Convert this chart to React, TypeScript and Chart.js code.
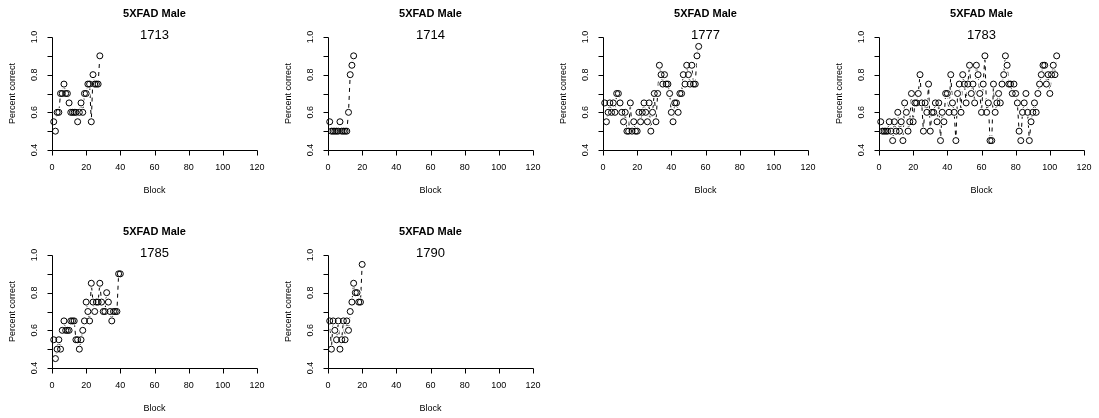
import React, { useEffect, useRef } from "react";
import { Chart, registerables } from "chart.js";

Chart.register(...registerables);

// Group shown above every panel
const groupLabel = "5XFAD Male";

// Animal IDs, in panel order (row by row)
const animalIds = ["1713", "1714", "1777", "1783", "1785", "1790"];

// Percent correct per block (block numbers start at 1)
const pct1713 = [0.55, 0.5, 0.6, 0.6, 0.7, 0.7, 0.75, 0.7, 0.7, 0.65, 0.6, 0.6, 0.6, 0.6, 0.55, 0.6, 0.65, 0.6, 0.7, 0.7, 0.75, 0.75, 0.55, 0.8, 0.75, 0.75, 0.75, 0.9];
const pct1714 = [0.55, 0.5, 0.5, 0.5, 0.5, 0.5, 0.55, 0.5, 0.5, 0.5, 0.5, 0.6, 0.8, 0.85, 0.9];
const pct1777 = [0.65, 0.55, 0.6, 0.65, 0.6, 0.65, 0.6, 0.7, 0.7, 0.65, 0.6, 0.55, 0.6, 0.5, 0.5, 0.65, 0.5, 0.55, 0.5, 0.5, 0.6, 0.55, 0.6, 0.65, 0.6, 0.55, 0.65, 0.5, 0.6, 0.7, 0.55, 0.7, 0.85, 0.8, 0.75, 0.8, 0.75, 0.75, 0.7, 0.6, 0.55, 0.65, 0.65, 0.6, 0.7, 0.7, 0.8, 0.75, 0.85, 0.8, 0.75, 0.85, 0.75, 0.75, 0.9, 0.95];
const pct1783 = [0.55, 0.5, 0.5, 0.5, 0.5, 0.55, 0.5, 0.45, 0.55, 0.5, 0.6, 0.5, 0.55, 0.45, 0.65, 0.6, 0.5, 0.55, 0.7, 0.55, 0.65, 0.65, 0.7, 0.8, 0.65, 0.5, 0.65, 0.6, 0.75, 0.5, 0.6, 0.6, 0.65, 0.55, 0.65, 0.45, 0.6, 0.55, 0.7, 0.7, 0.6, 0.8, 0.65, 0.6, 0.45, 0.7, 0.75, 0.6, 0.8, 0.75, 0.65, 0.75, 0.85, 0.7, 0.75, 0.65, 0.85, 0.8, 0.7, 0.6, 0.75, 0.9, 0.6, 0.65, 0.45, 0.45, 0.75, 0.6, 0.65, 0.7, 0.65, 0.75, 0.8, 0.9, 0.85, 0.75, 0.75, 0.7, 0.75, 0.7, 0.65, 0.5, 0.45, 0.6, 0.65, 0.7, 0.6, 0.45, 0.55, 0.6, 0.65, 0.6, 0.7, 0.75, 0.8, 0.85, 0.85, 0.75, 0.8, 0.7, 0.8, 0.85, 0.8, 0.9];
const pct1785 = [0.55, 0.45, 0.5, 0.55, 0.5, 0.6, 0.65, 0.6, 0.6, 0.6, 0.65, 0.65, 0.65, 0.55, 0.55, 0.5, 0.55, 0.6, 0.65, 0.75, 0.7, 0.65, 0.85, 0.75, 0.7, 0.75, 0.75, 0.85, 0.75, 0.7, 0.7, 0.8, 0.75, 0.7, 0.65, 0.7, 0.7, 0.7, 0.9, 0.9];
const pct1790 = [0.65, 0.5, 0.65, 0.6, 0.55, 0.65, 0.5, 0.55, 0.65, 0.55, 0.65, 0.6, 0.7, 0.75, 0.85, 0.8, 0.8, 0.75, 0.75, 0.95];

const seriesByPanel = [pct1713, pct1714, pct1777, pct1783, pct1785, pct1790];

// Axis ticks
const xTicks = [0, 20, 40, 60, 80, 100, 120];
const yTicks = [0.4, 0.5, 0.6, 0.7, 0.8, 0.9, 1.0];
const yTickLabels = ["0.4", "", "0.6", "", "0.8", "", "1.0"];

const xTitle = "Block";
const yTitle = "Percent correct";

// Panel geometry
const COLS = 4;
const COL_STEP = 275.7;
const ROW_STEP = 218;
const CANVAS_W = 276;
const CANVAS_H = 200;
const PLOT_LEFT = 52;
const PLOT_RIGHT = 257;
const PLOT_TOP = 37;
const PLOT_BOTTOM = 150;

const FONT = '"Liberation Sans", Arial, Helvetica, sans-serif';

// Base-graphics style axes, labels and titles drawn on top of the datasets
const baseAxesPlugin = {
  id: "baseAxes",
  afterDatasetsDraw(chart: any, _args: any, opts: any) {
    const { ctx } = chart;
    const xs = chart.scales.x;
    const ys = chart.scales.y;
    const snap = (v: number) => Math.round(v) + 0.5;

    ctx.save();
    ctx.strokeStyle = "#000";
    ctx.fillStyle = "#000";
    ctx.lineWidth = 1;
    ctx.setLineDash([]);

    // x axis
    const yAxis = snap(ys.getPixelForValue(yTicks[0]));
    ctx.beginPath();
    ctx.moveTo(snap(xs.getPixelForValue(xTicks[0])), yAxis);
    ctx.lineTo(snap(xs.getPixelForValue(xTicks[xTicks.length - 1])), yAxis);
    xTicks.forEach((t) => {
      const px = snap(xs.getPixelForValue(t));
      ctx.moveTo(px, yAxis);
      ctx.lineTo(px, yAxis + 5);
    });
    // y axis
    const xAxis = snap(xs.getPixelForValue(xTicks[0]));
    ctx.moveTo(xAxis, snap(ys.getPixelForValue(yTicks[0])));
    ctx.lineTo(xAxis, snap(ys.getPixelForValue(yTicks[yTicks.length - 1])));
    yTicks.forEach((t) => {
      const py = snap(ys.getPixelForValue(t));
      ctx.moveTo(xAxis, py);
      ctx.lineTo(xAxis - 5, py);
    });
    ctx.stroke();

    ctx.font = `9px ${FONT}`;
    ctx.textAlign = "center";
    ctx.textBaseline = "middle";
    xTicks.forEach((t) => {
      ctx.fillText(String(t), xs.getPixelForValue(t), yAxis + 17);
    });
    yTicks.forEach((t, i) => {
      const lbl = yTickLabels[i];
      if (!lbl) return;
      ctx.save();
      ctx.translate(xAxis - 18, ys.getPixelForValue(t));
      ctx.rotate(-Math.PI / 2);
      ctx.fillText(lbl, 0, 0);
      ctx.restore();
    });

    // axis titles
    const midX = (xs.getPixelForValue(xTicks[0]) + xs.getPixelForValue(xTicks[xTicks.length - 1])) / 2;
    const midY = (ys.getPixelForValue(yTicks[0]) + ys.getPixelForValue(yTicks[yTicks.length - 1])) / 2;
    ctx.fillText(xTitle, midX, yAxis + 40);
    ctx.save();
    ctx.translate(13, midY);
    ctx.rotate(-Math.PI / 2);
    ctx.fillText(yTitle, 0, 0);
    ctx.restore();

    // main title and animal id
    ctx.font = `bold 11px ${FONT}`;
    ctx.fillText(groupLabel, midX, 14);
    ctx.font = `13px ${FONT}`;
    ctx.fillText(opts.animal, midX, 35);

    ctx.restore();
  },
};

function Panel({ values, animal, left, top }: { values: number[]; animal: string; left: number; top: number }) {
  const ref = useRef<HTMLCanvasElement | null>(null);

  useEffect(() => {
    if (!ref.current) return;
    const points = values.map((v, i) => ({ x: i + 1, y: v }));
    const chart = new Chart(ref.current, {
      type: "scatter",
      data: {
        datasets: [
          {
            // dashed connecting line
            data: points,
            showLine: true,
            borderColor: "#000",
            borderWidth: 1,
            borderDash: [4, 4],
            pointRadius: 0,
            clip: false,
            order: 3,
          } as any,
          {
            // white halo that opens a gap in the line around each point
            data: points,
            showLine: false,
            pointRadius: 4.5,
            pointBackgroundColor: "#fff",
            pointBorderColor: "#fff",
            pointBorderWidth: 0,
            clip: false,
            order: 2,
          } as any,
          {
            // open circles
            data: points,
            showLine: false,
            pointStyle: "circle",
            pointRadius: 3,
            pointBackgroundColor: "rgba(0,0,0,0)",
            pointBorderColor: "#000",
            pointBorderWidth: 1,
            clip: false,
            order: 1,
          } as any,
        ],
      },
      options: {
        responsive: false,
        animation: false,
        devicePixelRatio: 1,
        events: [],
        layout: {
          padding: {
            left: PLOT_LEFT,
            right: CANVAS_W - PLOT_RIGHT,
            top: PLOT_TOP,
            bottom: CANVAS_H - PLOT_BOTTOM,
          },
        },
        scales: {
          x: { type: "linear", min: xTicks[0], max: xTicks[xTicks.length - 1], display: false },
          y: { type: "linear", min: yTicks[0], max: yTicks[yTicks.length - 1], display: false },
        },
        plugins: {
          legend: { display: false },
          tooltip: { enabled: false },
          baseAxes: { animal },
        } as any,
      },
      plugins: [baseAxesPlugin],
    });
    return () => chart.destroy();
  }, [values, animal]);

  return (
    <canvas
      ref={ref}
      width={CANVAS_W}
      height={CANVAS_H}
      style={{ position: "absolute", left, top, width: CANVAS_W, height: CANVAS_H }}
    />
  );
}

export default function App() {
  useEffect(() => {
    document.body.style.margin = "0";
    document.body.style.background = "#fff";
  }, []);

  return (
    <div style={{ position: "relative", width: 1099, height: 418, background: "#fff", overflow: "hidden" }}>
      {animalIds.map((id, i) => (
        <Panel
          key={id}
          animal={id}
          values={seriesByPanel[i]}
          left={Math.round((i % COLS) * COL_STEP)}
          top={Math.floor(i / COLS) * ROW_STEP}
        />
      ))}
    </div>
  );
}
